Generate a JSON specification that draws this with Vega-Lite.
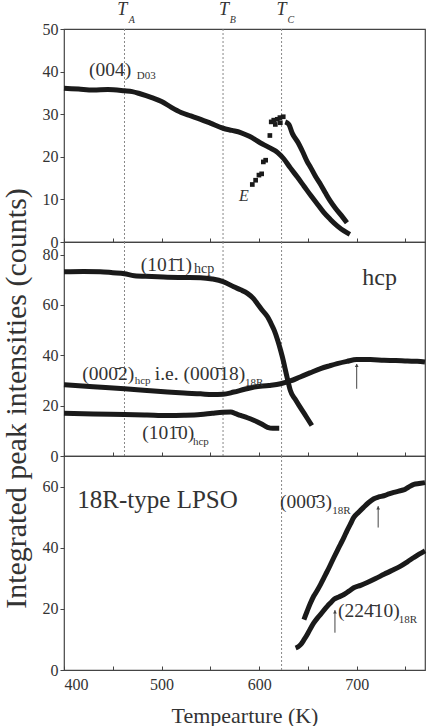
{
  "$schema": "https://vega.github.io/schema/vega-lite/v6.json",
  "background": "white",
  "padding": {"left": 0, "top": 0, "right": 2, "bottom": 0},
  "spacing": 0,
  "bounds": "flush",
  "config": {
    "font": "Liberation Serif",
    "view": {"stroke": "#444", "strokeWidth": 1.2},
    "axis": {
      "labelFont": "Liberation Serif",
      "labelFontSize": 16,
      "labelColor": "#333",
      "titleFont": "Liberation Serif",
      "titleFontWeight": "normal",
      "titleColor": "#333",
      "tickColor": "#444",
      "domain": false,
      "grid": false
    },
    "text": {"font": "Liberation Serif", "color": "#333", "align": "left", "baseline": "alphabetic"}
  },
  "datasets": {
    "tLines": [{"T": 462, "name": "A"}, {"T": 563, "name": "B"}, {"T": 623, "name": "C"}],
    "d03": [
      {"T": 400, "I": 36.1}, {"T": 415, "I": 35.9}, {"T": 430, "I": 35.7}, {"T": 445, "I": 35.8},
      {"T": 462, "I": 35.5}, {"T": 470, "I": 35.3}, {"T": 478, "I": 34.8}, {"T": 490, "I": 33.9},
      {"T": 500, "I": 33.0}, {"T": 510, "I": 31.6}, {"T": 520, "I": 30.4}, {"T": 530, "I": 29.6},
      {"T": 540, "I": 28.8}, {"T": 550, "I": 27.9}, {"T": 563, "I": 26.7}, {"T": 572, "I": 26.2},
      {"T": 581, "I": 25.7}, {"T": 590, "I": 24.8}, {"T": 601, "I": 23.3}, {"T": 610, "I": 22.2},
      {"T": 619, "I": 21.0}, {"T": 625, "I": 19.6}, {"T": 632, "I": 17.4}, {"T": 639, "I": 15.3},
      {"T": 646, "I": 13.1}, {"T": 653, "I": 10.9}, {"T": 660, "I": 8.8}, {"T": 666, "I": 7.0},
      {"T": 673, "I": 5.3}, {"T": 680, "I": 3.8}, {"T": 687, "I": 2.6}, {"T": 693, "I": 1.8}
    ],
    "eSquares": [
      {"T": 593, "I": 13.5}, {"T": 596.4, "I": 14.5}, {"T": 599.8, "I": 15.7}, {"T": 602.6, "I": 16.0},
      {"T": 604.3, "I": 18.8}, {"T": 606.7, "I": 19.2}, {"T": 611, "I": 25.0}, {"T": 612.4, "I": 28.2},
      {"T": 615, "I": 28.6}, {"T": 618.6, "I": 28.8}, {"T": 621.3, "I": 29.2}, {"T": 624.7, "I": 29.4},
      {"T": 616.6, "I": 27.6}, {"T": 621.7, "I": 28.0}
    ],
    "eCurve": [
      {"T": 626.8, "I": 28.2}, {"T": 630.5, "I": 27.6}, {"T": 634, "I": 25.5}, {"T": 640, "I": 23.3},
      {"T": 645, "I": 21.0}, {"T": 649, "I": 19.0}, {"T": 653, "I": 17.4}, {"T": 658, "I": 15.3},
      {"T": 663, "I": 13.5}, {"T": 668, "I": 11.5}, {"T": 673, "I": 9.6}, {"T": 678, "I": 8.0},
      {"T": 684, "I": 6.3}, {"T": 690, "I": 4.5}
    ],
    "hcp": [
      {"s": "1011", "T": 400, "I": 73.2}, {"s": "1011", "T": 420, "I": 73.3}, {"s": "1011", "T": 437, "I": 73.2},
      {"s": "1011", "T": 450, "I": 72.8}, {"s": "1011", "T": 462, "I": 72.4}, {"s": "1011", "T": 472, "I": 71.6},
      {"s": "1011", "T": 490, "I": 71.3}, {"s": "1011", "T": 506, "I": 71.0}, {"s": "1011", "T": 523, "I": 70.9},
      {"s": "1011", "T": 540, "I": 70.8}, {"s": "1011", "T": 552, "I": 70.3}, {"s": "1011", "T": 563, "I": 69.3},
      {"s": "1011", "T": 574, "I": 67.2}, {"s": "1011", "T": 581, "I": 66.0}, {"s": "1011", "T": 588, "I": 64.6},
      {"s": "1011", "T": 594, "I": 62.6}, {"s": "1011", "T": 598, "I": 60.6}, {"s": "1011", "T": 603, "I": 58.0},
      {"s": "1011", "T": 608.6, "I": 55.3}, {"s": "1011", "T": 612, "I": 52.8}, {"s": "1011", "T": 615.4, "I": 50.0},
      {"s": "1011", "T": 619, "I": 46.0}, {"s": "1011", "T": 622, "I": 42.0}, {"s": "1011", "T": 625, "I": 37.5},
      {"s": "1011", "T": 627, "I": 34.0}, {"s": "1011", "T": 630, "I": 29.0}, {"s": "1011", "T": 632, "I": 26.0},
      {"s": "1011", "T": 637, "I": 22.5}, {"s": "1011", "T": 642, "I": 19.4}, {"s": "1011", "T": 648, "I": 15.8},
      {"s": "1011", "T": 654, "I": 12.1},
      {"s": "0002", "T": 400, "I": 28.3}, {"s": "0002", "T": 430, "I": 27.5}, {"s": "0002", "T": 462, "I": 26.7},
      {"s": "0002", "T": 485, "I": 26.0}, {"s": "0002", "T": 506, "I": 25.4}, {"s": "0002", "T": 523, "I": 25.0},
      {"s": "0002", "T": 540, "I": 24.7}, {"s": "0002", "T": 552, "I": 24.4}, {"s": "0002", "T": 563, "I": 24.5},
      {"s": "0002", "T": 574, "I": 25.4}, {"s": "0002", "T": 585, "I": 26.5}, {"s": "0002", "T": 595, "I": 27.4},
      {"s": "0002", "T": 610, "I": 28.0}, {"s": "0002", "T": 622, "I": 28.7}, {"s": "0002", "T": 632, "I": 29.8},
      {"s": "0002", "T": 642, "I": 31.4}, {"s": "0002", "T": 652, "I": 33.0}, {"s": "0002", "T": 663, "I": 34.7},
      {"s": "0002", "T": 672, "I": 35.8}, {"s": "0002", "T": 680, "I": 36.7}, {"s": "0002", "T": 690, "I": 37.6},
      {"s": "0002", "T": 700, "I": 38.3}, {"s": "0002", "T": 714, "I": 38.3}, {"s": "0002", "T": 728, "I": 38.0},
      {"s": "0002", "T": 740, "I": 37.9}, {"s": "0002", "T": 752, "I": 37.7}, {"s": "0002", "T": 762, "I": 37.6},
      {"s": "0002", "T": 770, "I": 37.3},
      {"s": "1010", "T": 400, "I": 17.0}, {"s": "1010", "T": 430, "I": 16.7}, {"s": "1010", "T": 462, "I": 16.5},
      {"s": "1010", "T": 485, "I": 16.3}, {"s": "1010", "T": 506, "I": 16.1}, {"s": "1010", "T": 523, "I": 16.2},
      {"s": "1010", "T": 540, "I": 16.5}, {"s": "1010", "T": 552, "I": 17.0}, {"s": "1010", "T": 563, "I": 17.4},
      {"s": "1010", "T": 571, "I": 17.5}, {"s": "1010", "T": 576, "I": 16.8}, {"s": "1010", "T": 581, "I": 16.1},
      {"s": "1010", "T": 588, "I": 15.2}, {"s": "1010", "T": 595, "I": 14.1}, {"s": "1010", "T": 602, "I": 12.8},
      {"s": "1010", "T": 608.6, "I": 11.4}, {"s": "1010", "T": 614, "I": 11.0}, {"s": "1010", "T": 620.6, "I": 11.0}
    ],
    "lpso": [
      {"s": "0003", "T": 645.9, "I": 16.5}, {"s": "0003", "T": 649.3, "I": 19.3}, {"s": "0003", "T": 652.5, "I": 21.8},
      {"s": "0003", "T": 656, "I": 24.2}, {"s": "0003", "T": 659.5, "I": 26.0}, {"s": "0003", "T": 663, "I": 28.0},
      {"s": "0003", "T": 666.5, "I": 30.2}, {"s": "0003", "T": 670, "I": 32.4}, {"s": "0003", "T": 673.3, "I": 34.6},
      {"s": "0003", "T": 676.6, "I": 36.8}, {"s": "0003", "T": 680, "I": 39.0}, {"s": "0003", "T": 683.5, "I": 41.2},
      {"s": "0003", "T": 686.8, "I": 43.3}, {"s": "0003", "T": 690, "I": 45.5}, {"s": "0003", "T": 693.5, "I": 47.7},
      {"s": "0003", "T": 697, "I": 49.9}, {"s": "0003", "T": 702, "I": 51.6}, {"s": "0003", "T": 707, "I": 53.2},
      {"s": "0003", "T": 712, "I": 54.7}, {"s": "0003", "T": 717.6, "I": 56.0}, {"s": "0003", "T": 722.5, "I": 56.6},
      {"s": "0003", "T": 727.9, "I": 57.0}, {"s": "0003", "T": 733, "I": 57.6}, {"s": "0003", "T": 738, "I": 58.1},
      {"s": "0003", "T": 743, "I": 58.5}, {"s": "0003", "T": 748, "I": 58.9}, {"s": "0003", "T": 753, "I": 59.8},
      {"s": "0003", "T": 758.6, "I": 60.7}, {"s": "0003", "T": 764, "I": 61.0}, {"s": "0003", "T": 770, "I": 61.3},
      {"s": "22410", "T": 637.4, "I": 7.2}, {"s": "22410", "T": 640, "I": 7.6}, {"s": "22410", "T": 642.5, "I": 8.3},
      {"s": "22410", "T": 646, "I": 9.9}, {"s": "22410", "T": 649.3, "I": 11.6}, {"s": "22410", "T": 652.5, "I": 13.5},
      {"s": "22410", "T": 656, "I": 15.4}, {"s": "22410", "T": 659.5, "I": 16.9}, {"s": "22410", "T": 663, "I": 18.2},
      {"s": "22410", "T": 666.5, "I": 19.6}, {"s": "22410", "T": 670, "I": 20.9}, {"s": "22410", "T": 673.3, "I": 22.0},
      {"s": "22410", "T": 676.6, "I": 23.1}, {"s": "22410", "T": 681.7, "I": 23.9}, {"s": "22410", "T": 686.9, "I": 24.7},
      {"s": "22410", "T": 692, "I": 25.8}, {"s": "22410", "T": 697, "I": 26.9}, {"s": "22410", "T": 704, "I": 27.7},
      {"s": "22410", "T": 710.8, "I": 28.6}, {"s": "22410", "T": 719.4, "I": 29.9}, {"s": "22410", "T": 728, "I": 31.3},
      {"s": "22410", "T": 736.5, "I": 32.6}, {"s": "22410", "T": 745, "I": 34.0}, {"s": "22410", "T": 752, "I": 35.4},
      {"s": "22410", "T": 758.6, "I": 36.8}, {"s": "22410", "T": 764, "I": 37.9}, {"s": "22410", "T": 770, "I": 39.0}
    ]
  },
  "vconcat": [
    {
      "width": 361,
      "height": 213,
      "layer": [
        {
          "data": {"name": "tLines"},
          "mark": {"type": "rule", "color": "#888", "strokeWidth": 1, "strokeDash": [2, 2]},
          "encoding": {
            "x": {
              "field": "T", "type": "quantitative",
              "scale": {"domain": [400, 770], "nice": false, "zero": false},
              "axis": {"values": [400, 450, 500, 550, 600, 650, 700, 750], "labels": false, "tickSize": -4, "title": null}
            }
          }
        },
        {
          "data": {"name": "d03"},
          "mark": {"type": "line", "color": "#1a1a1a", "strokeWidth": 5, "interpolate": "monotone"},
          "encoding": {
            "x": {"field": "T", "type": "quantitative"},
            "y": {
              "field": "I", "type": "quantitative",
              "scale": {"domain": [0, 50], "nice": false},
              "axis": {"values": [0, 10, 20, 30, 40, 50], "tickSize": 4, "labelPadding": 2, "title": null}
            }
          }
        },
        {
          "data": {"name": "eCurve"},
          "mark": {"type": "line", "color": "#1a1a1a", "strokeWidth": 5, "interpolate": "monotone"},
          "encoding": {
            "x": {"field": "T", "type": "quantitative"},
            "y": {"field": "I", "type": "quantitative"}
          }
        },
        {
          "data": {"name": "eSquares"},
          "mark": {"type": "point", "shape": "square", "filled": true, "color": "#1a1a1a", "size": 22, "opacity": 1},
          "encoding": {
            "x": {"field": "T", "type": "quantitative"},
            "y": {"field": "I", "type": "quantitative"}
          }
        },
        {
          "data": {"values": [{"label": "(004)", "T": 425.6, "I": 39.0}]},
          "mark": {"type": "text", "fontSize": 19.5},
          "encoding": {
            "x": {"field": "T", "type": "quantitative"},
            "y": {"field": "I", "type": "quantitative"},
            "text": {"field": "label"}
          }
        },
        {
          "data": {"values": [{"label": "E", "T": 579.4, "I": 9.6}]},
          "mark": {"type": "text", "fontSize": 16, "fontStyle": "italic"},
          "encoding": {
            "x": {"field": "T", "type": "quantitative"},
            "y": {"field": "I", "type": "quantitative"},
            "text": {"field": "label"}
          }
        },
        {
          "data": {"values": [
            {"label": "T", "T": 454.7, "I": 53.2},
            {"label": "T", "T": 558.8, "I": 53.2},
            {"label": "T", "T": 617.9, "I": 53.2}
          ]},
          "mark": {"type": "text", "fontSize": 18, "fontStyle": "italic"},
          "encoding": {
            "x": {"field": "T", "type": "quantitative"},
            "y": {"field": "I", "type": "quantitative"},
            "text": {"field": "label"}
          }
        },
        {
          "data": {"values": [
            {"label": "A", "T": 466.3, "I": 51.5},
            {"label": "B", "T": 570.0, "I": 51.5},
            {"label": "C", "T": 629.0, "I": 51.5}
          ]},
          "mark": {"type": "text", "fontSize": 10, "fontStyle": "italic"},
          "encoding": {
            "x": {"field": "T", "type": "quantitative"},
            "y": {"field": "I", "type": "quantitative"},
            "text": {"field": "label"}
          }
        },
        {
          "data": {"values": [{"label": "D03", "T": 474.5, "I": 38.3}]},
          "mark": {"type": "text", "fontSize": 11},
          "encoding": {
            "x": {"field": "T", "type": "quantitative"},
            "y": {"field": "I", "type": "quantitative"},
            "text": {"field": "label"}
          }
        }
      ]
    },
    {
      "width": 361,
      "height": 214,
      "layer": [
        {
          "data": {"name": "tLines"},
          "mark": {"type": "rule", "color": "#888", "strokeWidth": 1, "strokeDash": [2, 2]},
          "encoding": {
            "x": {
              "field": "T", "type": "quantitative",
              "scale": {"domain": [400, 770], "nice": false, "zero": false},
              "axis": {"values": [400, 450, 500, 550, 600, 650, 700, 750], "labels": false, "tickSize": -4, "title": null}
            }
          }
        },
        {
          "data": {"name": "hcp"},
          "mark": {"type": "line", "color": "#1a1a1a", "strokeWidth": 5, "interpolate": "monotone"},
          "encoding": {
            "x": {"field": "T", "type": "quantitative"},
            "y": {
              "field": "I", "type": "quantitative",
              "scale": {"domain": [0, 85], "nice": false},
              "axis": {
                "values": [0, 20, 40, 60, 80], "tickSize": 4, "labelPadding": 2,
                "title": "Integrated peak intensities (counts)",
                "titleFontSize": 30, "titleX": -39, "titleY": 156,
                "titleAngle": 270, "titleAlign": "center", "titleBaseline": "alphabetic"
              }
            },
            "detail": {"field": "s"}
          }
        },
        {
          "data": {"values": [{"T": 700, "from": 26.7, "to": 36.5}]},
          "mark": {"type": "rule", "color": "#444", "strokeWidth": 1},
          "encoding": {
            "x": {"field": "T", "type": "quantitative"},
            "y": {"field": "from", "type": "quantitative"},
            "y2": {"field": "to"}
          }
        },
        {
          "data": {"values": [{"T": 700, "to": 36.0}]},
          "mark": {"type": "point", "shape": "triangle-up", "filled": true, "color": "#444", "size": 14, "opacity": 1},
          "encoding": {
            "x": {"field": "T", "type": "quantitative"},
            "y": {"field": "to", "type": "quantitative"}
          }
        },
        {
          "data": {"values": [
            {"label": "(101\u03041)", "T": 478.6, "I": 73.3},
            {"label": "(000\u03042)", "T": 418.8, "I": 30.3},
            {"label": "i.e. (000\u030418)", "T": 493.0, "I": 30.3},
            {"label": "(101\u03040)", "T": 480.3, "I": 6.8}
          ]},
          "mark": {"type": "text", "fontSize": 19.5},
          "encoding": {
            "x": {"field": "T", "type": "quantitative"},
            "y": {"field": "I", "type": "quantitative"},
            "text": {"field": "label"}
          }
        },
        {
          "data": {"values": [{"label": "hcp", "T": 533.2, "I": 72.8}]},
          "mark": {"type": "text", "fontSize": 14},
          "encoding": {
            "x": {"field": "T", "type": "quantitative"},
            "y": {"field": "I", "type": "quantitative"},
            "text": {"field": "label"}
          }
        },
        {
          "data": {"values": [
            {"label": "hcp", "T": 472.4, "I": 28.7},
            {"label": "18R", "T": 585.5, "I": 28.0},
            {"label": "hcp", "T": 532.2, "I": 4.5}
          ]},
          "mark": {"type": "text", "fontSize": 11},
          "encoding": {
            "x": {"field": "T", "type": "quantitative"},
            "y": {"field": "I", "type": "quantitative"},
            "text": {"field": "label"}
          }
        },
        {
          "data": {"values": [{"label": "hcp", "T": 705.7, "I": 68.0}]},
          "mark": {"type": "text", "fontSize": 24},
          "encoding": {
            "x": {"field": "T", "type": "quantitative"},
            "y": {"field": "I", "type": "quantitative"},
            "text": {"field": "label"}
          }
        }
      ]
    },
    {
      "width": 361,
      "height": 214,
      "layer": [
        {
          "data": {"values": [{"T": 623}]},
          "mark": {"type": "rule", "color": "#888", "strokeWidth": 1, "strokeDash": [2, 2]},
          "encoding": {
            "x": {
              "field": "T", "type": "quantitative",
              "scale": {"domain": [400, 770], "nice": false, "zero": false},
              "axis": {
                "values": [400, 450, 500, 550, 600, 650, 700, 750],
                "labelExpr": "datum.value % 100 == 0 ? datum.label : ''",
                "tickSize": -4, "labelPadding": 10,
                "title": "Tempearture (K)", "titleFontSize": 22, "titlePadding": 13
              }
            }
          }
        },
        {
          "data": {"name": "lpso"},
          "mark": {"type": "line", "color": "#1a1a1a", "strokeWidth": 5, "interpolate": "monotone"},
          "encoding": {
            "x": {"field": "T", "type": "quantitative"},
            "y": {
              "field": "I", "type": "quantitative",
              "scale": {"domain": [0, 70], "nice": false},
              "axis": {"values": [0, 20, 40, 60], "tickSize": 4, "labelPadding": 2, "title": null}
            },
            "detail": {"field": "s"}
          }
        },
        {
          "data": {"values": [
            {"T": 722, "from": 46.6, "to": 53.6},
            {"T": 677.7, "from": 12.2, "to": 19.6}
          ]},
          "mark": {"type": "rule", "color": "#444", "strokeWidth": 1},
          "encoding": {
            "x": {"field": "T", "type": "quantitative"},
            "y": {"field": "from", "type": "quantitative"},
            "y2": {"field": "to"}
          }
        },
        {
          "data": {"values": [
            {"T": 722, "to": 53.0},
            {"T": 677.7, "to": 19.0}
          ]},
          "mark": {"type": "point", "shape": "triangle-up", "filled": true, "color": "#444", "size": 14, "opacity": 1},
          "encoding": {
            "x": {"field": "T", "type": "quantitative"},
            "y": {"field": "to", "type": "quantitative"}
          }
        },
        {
          "data": {"values": [{"label": "18R-type LPSO", "T": 413.7, "I": 52.9}]},
          "mark": {"type": "text", "fontSize": 25},
          "encoding": {
            "x": {"field": "T", "type": "quantitative"},
            "y": {"field": "I", "type": "quantitative"},
            "text": {"field": "label"}
          }
        },
        {
          "data": {"values": [
            {"label": "(000\u03043)", "T": 621.3, "I": 52.9},
            {"label": "(224\u030410)", "T": 680.8, "I": 17.3}
          ]},
          "mark": {"type": "text", "fontSize": 19.5},
          "encoding": {
            "x": {"field": "T", "type": "quantitative"},
            "y": {"field": "I", "type": "quantitative"},
            "text": {"field": "label"}
          }
        },
        {
          "data": {"values": [
            {"label": "18R", "T": 674.9, "I": 51.0},
            {"label": "18R", "T": 743.2, "I": 15.4}
          ]},
          "mark": {"type": "text", "fontSize": 11},
          "encoding": {
            "x": {"field": "T", "type": "quantitative"},
            "y": {"field": "I", "type": "quantitative"},
            "text": {"field": "label"}
          }
        }
      ]
    }
  ]
}
